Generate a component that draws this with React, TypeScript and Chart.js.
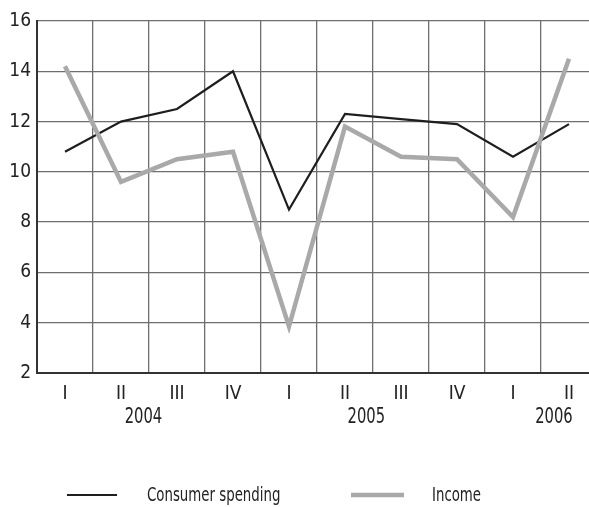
import { useEffect, useRef } from "react"
import { Chart, registerables, type ChartConfiguration, type Plugin } from "chart.js"

Chart.register(...registerables)

const FONT = "'Liberation Sans Narrow', 'DejaVu Sans Condensed', 'Liberation Sans', sans-serif"

const quarters = ["I", "II", "III", "IV", "I", "II", "III", "IV", "I", "II"]
const years = ["2004", "2005", "2006"]
const consumerSpending = [10.8, 12.0, 12.5, 14.0, 8.5, 12.3, 12.1, 11.9, 10.6, 11.9]
const income = [14.2, 9.6, 10.5, 10.8, 3.85, 11.8, 10.6, 10.5, 8.2, 14.5]
const seriesNames = ["Consumer spending", "Income"]
const seriesColors = ["#1e1e1e", "#a9a9a9"]

// draws condensed text (the reference uses a narrow gothic face)
function narrowText(ctx: CanvasRenderingContext2D, text: string, x: number, y: number, squeeze: number) {
  ctx.save()
  ctx.translate(x, y)
  ctx.scale(squeeze, 1)
  ctx.fillText(text, 0, 0)
  ctx.restore()
}

// year labels under the quarters, plus the legend at the bottom
const extrasPlugin: Plugin = {
  id: "extras",
  afterDraw(chart) {
    const ctx = chart.ctx
    const x = chart.scales.x
    ctx.save()
    ctx.fillStyle = "#222"
    ctx.font = `21px ${FONT}`
    ctx.textAlign = "center"
    ctx.textBaseline = "middle"
    const yearAt = [1.4, 5.38, 8.73]
    years.forEach((y, i) => {
      narrowText(ctx, y, x.getPixelForValue(yearAt[i]), 418, 0.78)
    })

    // legend
    const items = [
      { x0: 67, x1: 117, tx: 147, width: 2.2 },
      { x0: 351, x1: 404, tx: 432, width: 4.5 },
    ]
    ctx.textAlign = "left"
    ctx.textBaseline = "alphabetic"
    ctx.font = `19px ${FONT}`
    items.forEach((it, i) => {
      ctx.strokeStyle = seriesColors[i]
      ctx.lineWidth = it.width
      ctx.beginPath()
      ctx.moveTo(it.x0, 495)
      ctx.lineTo(it.x1, 495)
      ctx.stroke()
      ctx.fillStyle = "#222"
      narrowText(ctx, seriesNames[i], it.tx, 501, 0.78)
    })
    ctx.restore()
  },
}

export default function App() {
  const chartRef = useRef<HTMLCanvasElement>(null)

  useEffect(() => {
    if (!chartRef.current) return
    const ctx = chartRef.current.getContext("2d")
    if (!ctx) return

    const chartConfig: ChartConfiguration = {
      type: "line",
      data: {
        labels: quarters,
        datasets: [
          {
            label: seriesNames[0],
            data: consumerSpending,
            borderColor: seriesColors[0],
            borderWidth: 2.2,
            pointRadius: 0,
            tension: 0,
            borderJoinStyle: "miter",
            order: 1,
          },
          {
            label: seriesNames[1],
            data: income,
            borderColor: seriesColors[1],
            borderWidth: 4.5,
            pointRadius: 0,
            tension: 0,
            borderJoinStyle: "miter",
            order: 0,
          },
        ],
      },
      options: {
        animation: false,
        responsive: true,
        maintainAspectRatio: false,
        layout: { padding: { top: 21, right: 1, left: 0, bottom: 0 } },
        plugins: {
          legend: { display: false },
          tooltip: { enabled: false },
        },
        scales: {
          x: {
            offset: true,
            grid: { offset: true, color: "#6e6e6e", lineWidth: 1.3, drawTicks: false },
            border: { color: "#333", width: 2 },
            ticks: {
              color: "#222",
              font: { family: FONT, size: 19 },
              padding: 10,
              autoSkip: false,
              maxRotation: 0,
            },
            afterFit(scale) {
              scale.height = 134
            },
          },
          y: {
            min: 2,
            max: 16,
            grid: { color: "#6e6e6e", lineWidth: 1.3, drawTicks: false },
            border: { color: "#333", width: 2 },
            ticks: {
              stepSize: 2,
              color: "#222",
              font: { family: FONT, size: 19 },
              padding: 6,
            },
            afterFit(scale) {
              scale.width = 37
            },
          },
        },
      },
      plugins: [extrasPlugin],
    }

    const newChart = new Chart(ctx, chartConfig)
    return () => newChart.destroy()
  }, [])

  return (
    <div style={{ position: "absolute", left: 0, top: 0, width: 589, height: 507, overflow: "hidden", background: "#fff" }}>
      <div style={{ position: "relative", width: 598, height: 507 }}>
        <canvas ref={chartRef} />
      </div>
    </div>
  )
}
